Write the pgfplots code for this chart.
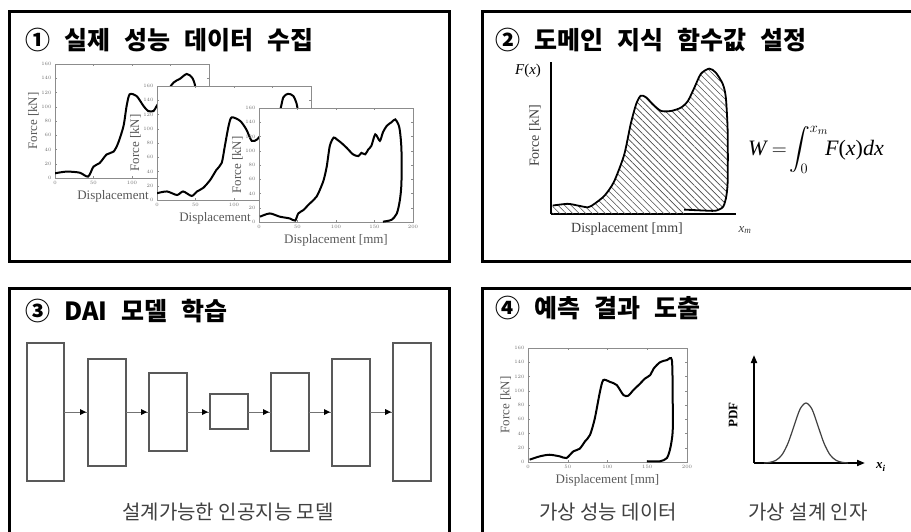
\documentclass[border=0pt]{standalone}
\usepackage{amsmath}
\usepackage{fontspec}
\setmainfont{Liberation Serif}
\newfontfamily\kr{Noto Sans CJK KR}
\usepackage{pgfplots}
\pgfplotsset{compat=1.18}
\usetikzlibrary{patterns.meta,arrows.meta}
\newcommand\gap{\hspace{14pt}}
\pgfplotsset{
 mini/.style={
  scale only axis, width=154pt, height=114pt, anchor=south west,
  xmin=0,xmax=200,ymin=0,ymax=160,
  xtick={0,50,100,150,200}, ytick={0,20,...,160},
  axis line style={black!45, line width=0.7pt},
  tick style={black!45, line width=0.4pt}, major tick length=2pt,
  tick label style={font=\fontsize{3.5}{4}\selectfont, text=black!55},
  axis background/.style={fill=white},
  xlabel={Displacement [mm]}, ylabel={Force [kN]},
  label style={font=\fontsize{13}{13}\selectfont, text=black!65},
  xlabel style={at={(axis description cs:0.5,0)}, anchor=center, yshift=-18pt},
  ylabel style={at={(axis description cs:-0.14,0.5)}, anchor=center},
 },
 curve/.style={black, line width=2pt, smooth, tension=0.45, no marks},
}
\tikzset{ttl/.style={anchor=west, inner sep=0, font=\kr\bfseries\fontsize{25}{25}\selectfont}}
\begin{document}
\begin{tikzpicture}
\path[use as bounding box, fill=white] (0pt,0pt) rectangle (911pt,-532pt);
\begin{scope}[x=1pt,y=-1pt]
% panel frames
\draw[line width=3pt] (9,12) rectangle (449,261);
\draw[line width=3pt] (912,12) -- (482,12) -- (482,261) -- (912,261);
\draw[line width=3pt] (9,540) -- (9,288) -- (449,288) -- (449,540);
\draw[line width=3pt] (912,288) -- (482,288) -- (482,540);
% titles
\node[ttl] at (25,40) {①\gap 실제\gap 성능\gap 데이터\gap 수집};
\node[ttl] at (495,40) {②\gap 도메인\gap 지식\gap 함수값\gap 설정};
\node[ttl] at (25,311) {③\gap DAI\gap 모델\gap 학습};
\node[ttl] at (495,308) {④\gap 예측\gap 결과\gap 도출};
% panel 3 network
\begin{scope}[black!65, line width=1.3pt]
\draw (27,343) rectangle (64,481);
\draw (88,359) rectangle (126,466);
\draw (149,373) rectangle (187,451);
\draw (210,394) rectangle (248,429);
\draw (271,373) rectangle (309,451);
\draw (332,359) rectangle (370,466);
\draw (393,343) rectangle (431,481);
\end{scope}
\begin{scope}[black!55, line width=0.8pt]
\foreach \a/\b in {64/88,126/149,187/210,248/271,309/332,370/393}{
  \draw (\a,412) -- (\b,412);
  \draw[draw=none, fill=black] (\b-2,412) -- (\b-8,409) -- (\b-8,415) -- cycle;
}
\end{scope}
\node[font=\kr\fontsize{20}{20}\selectfont, text=black!75] at (228,512) {설계가능한 인공지능 모델};
% panel 4 texts
\node[font=\kr\fontsize{20}{20}\selectfont, text=black!75] at (608,512) {가상 성능 데이터};
\node[font=\kr\fontsize{20}{20}\selectfont, text=black!75] at (808,512) {가상 설계 인자};
\node[rotate=90, font=\bfseries\fontsize{13}{13}\selectfont] at (733,415) {PDF};
\node[font=\bfseries\itshape\fontsize{13}{13}\selectfont] at (881,467) {x\textsubscript{\itshape i}};
% panel 2 texts
\node[font=\fontsize{15}{15}\selectfont] at (528,71) {\textit{F}(\textit{x})};
\node[rotate=90, font=\fontsize{14}{14}\selectfont, text=black!75] at (535,136) {Force [kN]};
\node[font=\fontsize{14}{14}\selectfont, text=black!75] at (627,229) {Displacement [mm]};
\node[font=\fontsize{13}{13}\selectfont, text=black!75] at (745,230) {\textit{x}\textsubscript{\textit{m}}};
\node[anchor=west, inner sep=0, font=\fontsize{22}{22}\selectfont] at (748,150) {\textit{W}\,$=\!\displaystyle\int_0^{x_m}\!$\textit{F}(\textit{x})\textit{dx}};
\end{scope}

% ---- panel 1 charts
\begin{axis}[mini, at={(55pt,-178pt)}, xlabel={Displacement}, xlabel style={xshift=-19pt}]
\addplot[curve] coordinates {(0,6.6) (15,9) (32,7.5) (43,2) (50,16) (58,21) (67,33) (76,37) (82,49) (89,73) (93,101) (97,117.5) (106,115) (115,101) (121,94) (128,94) (132,101) (141,115) (154,134) (162,139) (171,146) (178,141) (182,129) (184,101) (184,40) (182,8) (175,1) (160,0)};
\end{axis}
\begin{axis}[mini, at={(157pt,-200pt)}, xlabel={Displacement}, xlabel style={xshift=-19pt}]
\addplot[curve] coordinates {(0,9.5) (13,12) (26,7) (34,12) (45,5.7) (52,12) (60,17) (69,28) (77,42) (84,52) (88,75) (93,104) (97,116) (108,111) (116,99) (123,83) (130,85) (137,94) (152,113) (160,127) (164,144) (170,149) (177,146) (182,132) (184,104) (184,48) (182,22) (178,8) (170,1) (158,0)};
\end{axis}
\begin{axis}[mini, at={(259pt,-222pt)}]
\addplot[curve] coordinates {(1.3,7.5) (14,12) (27,7.5) (40,5) (47,2) (51,12) (58,17) (64,24) (71,31) (75,36) (79,45) (84,59) (88,78) (92,107) (97,118.5) (101,116) (107,111) (114,104) (122,95) (129,92.5) (133,97) (138,95) (142,102) (146,107) (151,123) (157,114) (161,126) (166,135) (172,140) (177,144) (181,137) (183,128) (185,102) (185,55) (183,31) (179,12) (172,3) (161,0.5)};
\end{axis}

% ---- panel 2 chart
\begin{axis}[scale only axis, width=185pt, height=152pt, anchor=origin, at={(551pt,-214pt)},
  xmin=0,xmax=200,ymin=0,ymax=160, axis lines=left, ticks=none,
  axis line style={-, line width=1.8pt}, clip=false]
\addplot[smooth, tension=0.45, draw=none, pattern={Lines[angle=-45,distance=4.6pt,line width=0.6pt]}, pattern color=black!70] coordinates {(1.8,8.9) (18,10.7) (29,8.9) (40,7.1) (47,10.7) (58,19.5) (68,33.8) (79,62) (86,94) (92,115.5) (97,124.5) (103,122.7) (110,115.5) (119,108.5) (130,108.5) (140.5,112) (148,119) (155,133) (162,147.5) (171,153) (178,149) (185.6,137) (189,122.7) (191,87) (191,34) (189,16) (185.6,7) (178,3.5) (169,3.5) (144,4.6)} \closedcycle;
\addplot[smooth, tension=0.45, black, line width=1.8pt] coordinates {(1.8,8.9) (18,10.7) (29,8.9) (40,7.1) (47,10.7) (58,19.5) (68,33.8) (79,62) (86,94) (92,115.5) (97,124.5) (103,122.7) (110,115.5) (119,108.5) (130,108.5) (140.5,112) (148,119) (155,133) (162,147.5) (171,153) (178,149) (185.6,137) (189,122.7) (191,87) (191,34) (189,16) (185.6,7) (178,3.5) (169,3.5) (144,4.6)};
\end{axis}

% ---- panel 4 charts
\begin{axis}[mini, width=159pt, at={(528pt,-462pt)}]
\addplot[curve] coordinates {(2,3.3) (14.7,7.9) (27,10.2) (40,7.9) (48.4,5.6) (57,14.9) (65,18.6) (71.6,28.8) (78,38) (84,61) (90.5,98.6) (94.7,115) (103,112.5) (111.6,108) (120,94) (126,93) (132.6,101) (141,110) (147,117) (153.7,122) (158,131) (166,140) (174.7,143) (181,143) (182,89) (182,43) (179,19.5) (174.7,5.6) (166,1) (149.5,1)};
\end{axis}
\begin{axis}[scale only axis, width=111pt, height=108pt, anchor=origin, at={(754pt,-463pt)},
  xmin=0,xmax=111,ymin=0,ymax=108, axis lines=left, ticks=none,
  axis line style={-{Triangle[length=8pt,width=6pt]}, line width=1.8pt}, clip=false]
\addplot[smooth, black!75, line width=1.2pt] coordinates {(10,0) (16,0.7) (22,2.7) (28,8.2) (34,19.8) (40,37) (46,53.8) (52,60) (58,53.8) (64,37) (70,19.8) (76,8.2) (82,2.7) (88,0.7) (94,0)};
\end{axis}
\end{tikzpicture}
\end{document}
